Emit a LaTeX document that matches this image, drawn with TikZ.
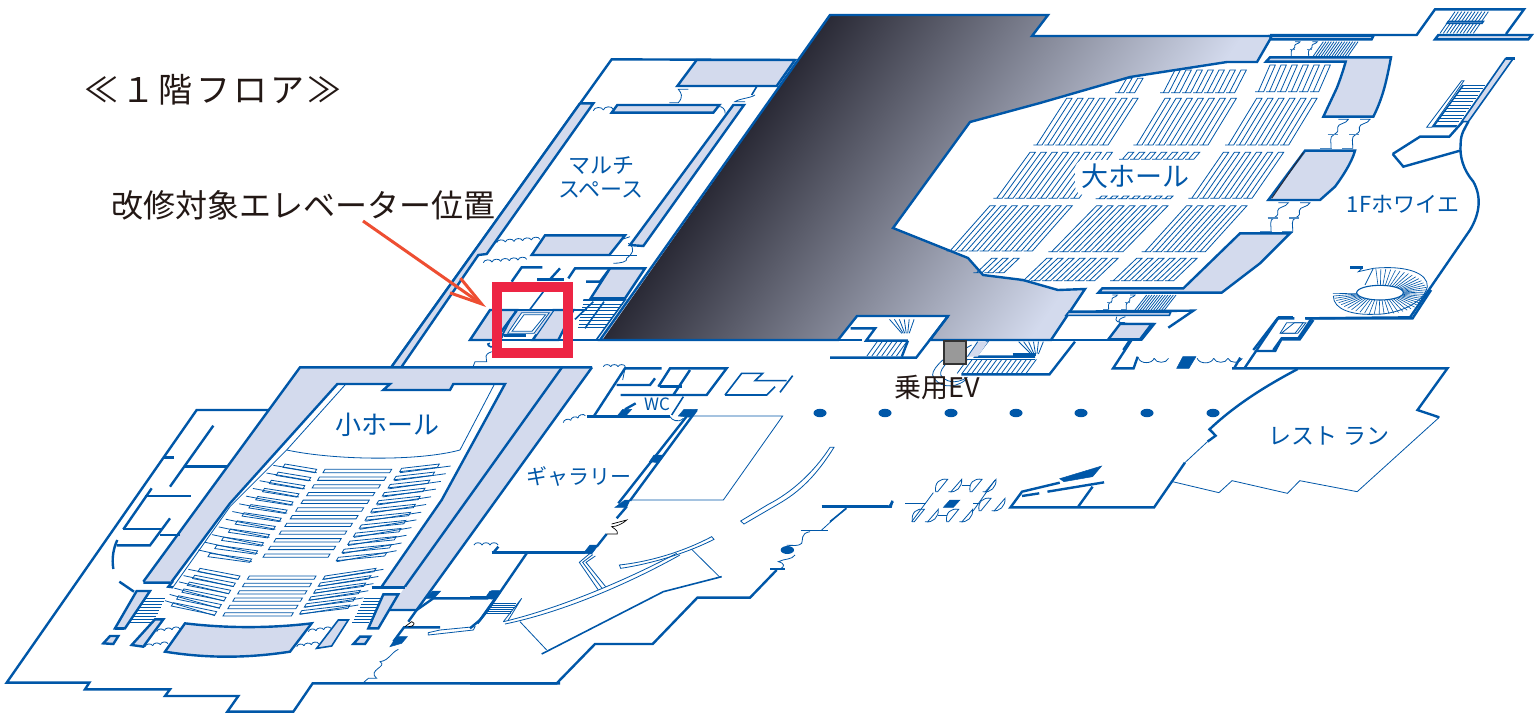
\documentclass[tikz,border=0pt]{standalone}
\usepackage{fontspec}
\usetikzlibrary{arrows.meta}
\newfontfamily\jp{Noto Sans CJK JP}
\newfontfamily\jpsp[LetterSpace=9]{Noto Sans CJK JP}
\definecolor{bl}{RGB}{0,87,168}
\definecolor{lt}{RGB}{211,218,237}
\definecolor{gA}{RGB}{42,42,54}
\definecolor{gB}{RGB}{150,154,175}
\definecolor{ink}{RGB}{35,24,21}
\definecolor{red1}{RGB}{237,37,68}
\definecolor{org}{RGB}{238,78,50}
\tikzset{
 wall/.style={draw=bl,line width=2.4pt,line join=miter},
 wmid/.style={draw=bl,line width=1.6pt,line join=miter},
 hair/.style={draw=bl,line width=.8pt,line join=miter},
 lite/.style={fill=lt},
 solid/.style={fill=bl,draw=bl,line width=.5pt},
 zA/.style={shift={(380,50)},x=.33333pt,y=-.33333pt},
 zB/.style={shift={(0,360)},x=.33333pt,y=-.33333pt},
 zC/.style={shift={(470,360)},x=.33333pt,y=-.33333pt},
 zD/.style={shift={(830,290)},x=.41026pt,y=-.33333pt},
 zE/.style={shift={(1040,0)},x=.33333pt,y=-.33333pt},
 zF/.style={shift={(880,90)},x=.33333pt,y=-.33333pt},
 zG/.style={shift={(905,470)},x=.33333pt,y=-.33333pt},
 lab/.style={font=\jp\fontsize{#1}{#1}\selectfont,text=bl,inner sep=0pt},
 blk/.style={font=\jp\fontsize{#1}{#1}\selectfont,text=ink,inner sep=0pt},
}
% scallops: x y n dx dy
\newcommand\wav[5]{\foreach \i in {1,...,#3}{\draw[hair] ({#1+(\i-1)*#4},{#2+(\i-1)*#5}) to[bend left=75] ({#1+\i*#4},{#2+\i*#5});}}
% door glyph: top right x, top y, scale
\newcommand\three[3]{\begin{scope}[shift={(#1,#2)},x=#3*.33333pt,y=-#3*.33333pt]
\draw[hair] (-30,0)--(0,0) .. controls (-6,14) and (-32,12) .. (-32,24) .. controls (-32,34) and (-28,36) .. (-42,45) .. controls (-60,52) and (-50,70) .. (-52,88);
\draw[draw=bl!70,line width=1.4pt] (-62,46)--(-32,46);
\draw[draw=bl!70,line width=1.4pt] (-84,88)--(-50,88);
\end{scope}}
% hairpin seats: xl xr ytop dx ybot
\newcommand\seats[5]{\pgfmathtruncatemacro\nn{(#2-#1)/33}\foreach \k in {0,...,\nn}{\pgfmathsetmacro\xx{#1+33*\k}\draw[hair] ({\xx+#4-10},#5)--({\xx+#4+16},#5)--({\xx+16},#3)--(\xx,#3)--({\xx+#4},#5);}}
% a seat row between two interpolated ends
\newcommand\rowseg[8]{\draw[hair] ({#1+(#5-#1)*\t},{#2+(#6-#2)*\t}) -- ({#3+(#7-#3)*\t},{#4+(#8-#4)*\t}) -- ({#3+(#7-#3)*\t-6},{#4+(#8-#4)*\t+10}) -- ({#1+(#5-#1)*\t-6},{#2+(#6-#2)*\t+10}) -- cycle;}
% double door leaves
\newcommand\dd[2]{\draw[hair] (#1,{#2+37}) .. controls ({#1-4},{#2+10}) and ({#1+12},{#2-4}) .. ({#1+36},#2) -- ({#1+6},{#2+37})--cycle;
\draw[hair] ({#1+38},{#2+37}) .. controls ({#1+62},{#2+42}) and ({#1+80},{#2+22}) .. ({#1+78},#2) -- ({#1+46},{#2+37})--cycle;}
\begin{document}
\begin{tikzpicture}[x=1pt,y=-1pt]
\useasboundingbox (0,0) rectangle (1538,713);
\fill[white] (0,0) rectangle (1538,713);

% ---------- gradient block
\fill[lt] (830,15)--(1048,15)--(1032,36)--(1272,36)--(1257,62)--(1227,62)--(1130,77)--(1040,103)--(970,122)--(893,228)--(968,258)--(983,275)--(1023,280)--(1058,290)--(1085,289)--(1051,340)--(930,340)--(948,316)--(857,316)--(838,340)--(600,340)--cycle;
\begin{scope}
\clip (830,15)--(1048,15)--(1032,36)--(1272,36)--(1257,62)--(1227,62)--(1130,77)--(1040,103)--(970,122)--(893,228)--(968,258)--(983,275)--(1023,280)--(1058,290)--(1085,289)--(1051,340)--(930,340)--(948,316)--(857,316)--(838,340)--(600,340)--cycle;
\shade[transform canvas={shift={(830,15)},rotate=-35},left color=gA,middle color=gB,right color=lt] (0,-1200) rectangle (350,1200);
\end{scope}
\draw[wall] (830,15)--(1048,15)--(1032,36)--(1272,36)--(1257,62)--(1227,62)--(1130,77)--(1040,103)--(970,122)--(893,228)--(968,258)--(983,275)--(1023,280)--(1058,290)--(1085,289)--(1051,340)--(930,340)--(948,316)--(857,316)--(838,340)--(600,340)--cycle;

% ---------- multi space wing
\begin{scope}[zA]
\draw[wall] (1245,30)--(695,28)--(35,950);
\path[lite] (600,160)--(640,160)--(320,612)--(295,615)--(65,950)--(35,950)--cycle;
\draw[wall] (600,160)--(640,160)--(320,612)--(295,615)--(65,950);
\draw[wall] (600,160)--(35,950);
\draw[wall,lite] (950,30)--(892,108)--(1190,108)--(1245,30)--cycle;
\draw[wmid] (1130,110)--(1115,135);
\draw[wall,lite] (695,188)--(712,165)--(1018,165)--(1000,188)--cycle;
\draw[wall,lite] (1060,165)--(1092,165)--(790,588)--(750,585)--cycle;
\draw[wall,lite] (495,556)--(735,556)--(688,615)--(455,615)--cycle;
\draw[wmid] (455,617)--(772,617);
\wav{640}{182}{2}{30}{-2}
\draw[hair] (1015,170) to[bend left=60] (1035,190);
\draw[hair] (925,118)--(895,118) .. controls (905,130) and (910,140) .. (895,158)--(868,158);
\draw[hair] (1125,135) .. controls (1110,145) and (1080,145) .. (1065,155)--(1095,155);
\wav{350}{578}{5}{26}{-2}
\wav{310}{638}{5}{26}{-2}
\draw[hair] (720,570)--(750,560);
\draw[hair] (745,580) .. controls (770,595) and (755,615) .. (740,625) .. controls (745,635) and (720,640) .. (700,640);
% rooms
\draw[wall] (395,695)--(425,652)--(487,652);
\draw[wall] (472,688)--(552,688);
\draw[wall] (510,688)--(540,655);
\draw[wall] (565,685)--(585,655)--(690,655);
\draw[wall] (618,695)--(660,695)--(690,655);
\draw[wall,lite] (690,655)--(795,655)--(735,745)--(632,745)--cycle;
% stair
\foreach \y in {752,762,...,838}{\draw[hair] ({610+(\y-752)*(-0.2)},\y)--({735-(\y-752)*.75},\y);}
\draw[wmid] (610,750)--(735,750)--(650,868);
\draw[wmid] (672,755)--(615,835);\draw[wmid] (640,755)--(585,808);
% lobby zone behind the red frame
\draw[wall,lite] (330,780)--(270,870)--(360,870)--(410,780)--cycle;
\draw[wall,lite] (520,780)--(580,780)--(535,870)--(458,870)--cycle;
\path[lite] (410,780)--(520,780)--(470,852)--(372,852)--cycle;
\draw[wall] (330,780)--(620,780);
\draw[wall] (360,850)--(410,782);
\draw[wmid] (490,725)--(450,778);
\draw[hair,fill=white] (425,788)--(508,788)--(462,850)--(383,850)--cycle;
\draw[hair] (432,794)--(497,794)--(456,844)--(396,844)--cycle;
\draw[wall] (372,856)--(438,856);
\draw[wall] (350,730)--(372,700);
\draw[wmid] (330,880) .. controls (315,880) and (330,895) .. (340,890);
\draw[hair] (280,948)--(285,935)--(320,935) .. controls (320,920) and (310,915) .. (335,905);
\end{scope}
\draw[wall] (600,340)--(470,340);

% ---------- small hall
\begin{scope}[zB]
\path[lite] (900,22)--(1776,22)--(1250,750)--(1170,750)--(1215,680)--(1145,680)--(1325,420)--(1515,72)--(1360,72)--(1350,90)--(1150,90)--(1170,72)--(1012,72)--(690,430)--(515,665)--(430,665)--cycle;
\draw[wall] (430,665)--(900,22)--(1776,22);
\draw[wall] (1776,22)--(1250,750)--(1170,750);
\draw[wall] (1686,22)--(1215,680);
\draw[wall] (515,665)--(690,430)--(1012,72)--(1170,72)--(1150,90)--(1350,90)--(1360,72)--(1515,72)--(1325,420)--(1145,680);
\draw[hair] (1035,75)--(860,270)--(690,440)--(520,680);
\draw[hair] (1482,75)--(1380,270);
\draw[hair] (860,270) .. controls (1000,300) and (1250,305) .. (1380,270);
\draw[wall] (430,668)--(515,668)--(505,680)--(520,682);
\draw[wall] (1115,683)--(1215,683);
% seats upper
\foreach \i in {0,...,11}{
 \pgfmathsetmacro\t{\i/11}
 \rowseg{855}{312}{950}{328}{630}{580}{755}{597}
 \rowseg{975}{328}{1175}{328}{795}{582}{990}{582}
 \rowseg{1205}{325}{1318}{312}{1015}{592}{1160}{578}
 \draw[hair] ({820+(595-820)*\t},{316+(570-316)*\t})--({950+(755-950)*\t},{338+(605-338)*\t});
 \draw[hair] ({1200+(1010-1200)*\t},{338+(605-338)*\t})--({1352+(1190-1352)*\t},{318+(572-318)*\t});
}
% seats lower
\foreach \i in {0,...,5}{
 \pgfmathsetmacro\t{\i/5}
 \rowseg{600}{625}{720}{648}{520}{728}{650}{755}
 \rowseg{748}{648}{948}{648}{675}{758}{880}{758}
 \rowseg{975}{648}{1128}{625}{905}{752}{1050}{735}
 \draw[hair] ({565+(495-565)*\t},{628+(722-628)*\t})--({715+(645-715)*\t},{658+(767-658)*\t});
 \draw[hair] ({970+(900-970)*\t},{658+(763-658)*\t})--({1150+(1075-1150)*\t},{628+(735-628)*\t});
}
% stage / lobby box
\draw[wall,lite] (555,790) .. controls (680,805) and (810,805) .. (935,790)--(870,875) .. controls (740,895) and (620,895) .. (495,875)--cycle;
% stairs of hall
\foreach \y in {715,724,...,795}{\draw[hair] ({430-(\y-715)*.6},\y)--({495-(\y-715)*.5},\y);
 \draw[hair] ({1092-(\y-715)*.5},\y)--({1147-(\y-715)*.55},\y);}
\draw[wall,lite] (410,693)--(450,693)--(375,805)--(345,805)--cycle;
\draw[wmid] (345,807)--(372,807);
\draw[wall,lite] (310,850)--(330,828)--(355,828)--(340,852)--cycle;
\draw[wall,lite] (395,855)--(465,778)--(490,778)--(430,860)--cycle;
\draw[wall,lite] (1150,703)--(1195,703)--(1135,805)--(1105,805)--cycle;
\draw[wmid,lite] (950,865)--(1015,780)--(1045,780)--(995,858)--cycle;
\draw[wall,lite] (1060,852)--(1080,830)--(1110,830)--(1095,852)--cycle;
\wav{470}{815}{3}{23}{-3}
\wav{435}{860}{3}{23}{-3}
\wav{925}{815}{3}{23}{-3}
\wav{890}{860}{3}{22}{-3}
% left rooms
\draw[wall] (805,150)--(590,150)--(20,968)--(268,968)--(255,988)--(510,988)--(495,1008)--(715,1008)--(682,1055)--(880,1055)--(938,970)--(1680,970);
\draw[wall] (640,197)--(510,380);
\draw[wall] (490,293)--(522,293);
\draw[wall] (555,320)--(685,320);
\draw[wall] (455,385)--(370,508);
\draw[wall] (435,408)--(572,408);
\draw[wall] (370,507)--(485,507);
\draw[wall] (510,475)--(450,556)--(350,556);
\draw[wall] (480,525)--(540,525);
\draw[wall] (352,540) .. controls (340,565) and (335,595) .. (340,627);
\draw[wall] (358,665)--(402,695);
% lower right of small hall
\draw[hair] (1090,968)--(1105,955)--(1130,955) .. controls (1100,930) and (1165,920) .. (1140,905) .. controls (1170,900) and (1170,880) .. (1195,868);
\draw[solid] (1170,860)--(1190,830)--(1222,830)--(1205,850)--(1170,860)--cycle;
\draw[wall] (1180,845)--(1212,802)--(1320,802);
\draw[wall] (1250,750)--(1300,715)--(1465,715);
\draw[solid] (1275,715)--(1298,693)--(1322,693)--(1302,715)--cycle;
\draw[solid] (1455,715)--(1470,693)--(1500,693)--(1482,718)--cycle;
\draw[hair] (1285,825)--(1420,810)--(1425,800)--(1320,810)--(1285,818)--cycle;
\draw[wall] (1250,750)--(1225,785);
\draw[draw=black,line width=.7pt] (1215,800)--(1235,785) .. controls (1250,790) and (1240,800) .. (1225,800);
\draw[wall] (1410,805)--(1440,780);
\draw[wall] (1440,780)--(1500,695);
\end{scope}

% ---------- gallery zone
\begin{scope}[zC]
\draw[wall] (65,578)--(345,578);
\draw[solid] (340,580)--(360,555)--(385,555)--(365,582)--cycle;
\draw[wall] (380,560)--(410,522);
\draw[draw=black,line width=.7pt] (410,522)--(442,522) .. controls (445,510) and (430,505) .. (425,500) .. controls (440,500) and (460,490) .. (470,480)--(425,492);
\draw[wall] (440,475)--(470,440);
% pillars strip
\draw[solid] (435,442)--(465,420)--(480,420)--(470,442)--cycle;
\draw[wall] (445,430)--(665,150);
\draw[wall] (480,422)--(680,150);
\draw[solid] (538,305)--(552,285)--(582,285)--(565,308)--cycle;
\draw[solid] (625,168)--(642,148)--(682,148)--(665,172)--cycle;
\draw[hair] (665,168)--(938,168)--(760,420)--(485,420);
\draw[wall] (350,170)--(600,170);
\draw[wall] (372,168)--(465,25)--(575,25);
\draw[wall] (440,75)--(540,75)--(555,55);
\draw[wall] (565,80)--(600,25)--(770,25)--(710,105)--(452,105);
\draw[wall] (570,80)--(635,80);
\draw[wall] (660,30)--(610,105);
\draw[wmid] (640,110)--(605,165);
\draw[solid] (440,170)--(458,148)--(485,148)--(465,170)--cycle;
\draw[wall] (465,148)--(497,130);
\draw[wmid] (765,105)--(815,40)--(878,40)--(855,62)--(950,62);
\draw[wmid] (765,105)--(890,105)--(915,80);
\draw[wmid] (930,97)--(968,47);
\draw[hair] (600,170) .. controls (605,180) and (625,190) .. (640,175);
\wav{280}{188}{3}{22}{-7}
\wav{400}{20}{3}{22}{0}
\draw[hair] (465,25)--(458,60);
\wav{12}{555}{3}{24}{0}
\draw[wall] (85,560)--(70,578);
% thin curved
\draw[hair] (812,483)--(895,433) .. controls (960,400) and (1030,340) .. (1080,262)--(1092,262) .. controls (1040,345) and (990,395) .. (925,432)--(822,492)--cycle;
\draw[hair] (448,615) .. controls (540,605) and (640,575) .. (725,530)--(732,538) .. controls (650,580) and (540,612) .. (452,625)--cycle;
\draw[hair] (100,785) .. controls (250,750) and (450,670) .. (620,580);
\draw[hair] (105,792) .. controls (260,760) and (450,685) .. (630,585);
\draw[hair] (100,785)--(155,715)--(115,780);
\draw[hair] (150,785)--(230,870);
\draw[wmid] (215,882)--(580,695)--(755,650);
\draw[hair] (665,568)--(750,652);
\draw[hair] (360,580)--(328,607)--(385,690);
\draw[hair] (368,584)--(338,607)--(396,685);
\draw[hair] (376,588)--(348,607)--(407,680);
\foreach \y in {730,736,...,760}{\draw[hair] ({60-(\y-730)*.5},\y)--({138-(\y-730)*.5},\y);}
\draw[wall] (170,580)--(50,755)--(22,790);
\draw[wall] (0,713)--(50,713);
\draw[solid] (48,715)--(65,692)--(88,692)--(72,716)--cycle;
\draw[wall] (1055,440)--(1255,440);
\draw[wall] (1258,440)--(1268,425);
\draw[hair] (1130,442)--(1055,510);
\draw[hair] (992,510)--(1075,510);
\draw[hair] (1020,515) .. controls (990,520) and (1000,540) .. (995,550) .. controls (985,560) and (970,555) .. (950,556);
\draw[hair] (975,585) .. controls (965,600) and (945,595) .. (925,605) .. controls (945,610) and (945,620) .. (930,627);
\draw[wmid] (900,627)--(945,627);
\draw[wall] (920,630)--(840,713)--(682,713)--(548,852)--(375,852)--(260,970)--(0,970);
\fill[bl] (952,570) ellipse (20 and 12);
\end{scope}

% ---------- columns
\foreach \x in {820,885,951,1016,1081,1147,1213}{\fill[bl] (\x,413) ellipse (6.5 and 4.2);}

% ---------- restaurant side
\begin{scope}[zD]
\draw[wall] (22,150)--(78,150);
\draw[wall] (50,115)--(110,115)--(88,152)--(190,152);
\draw[wall] (288,78)--(210,203)--(0,203);
\draw[wall] (190,152)--(175,200);
\foreach \x in {0,12,...,60}{\draw[hair] ({145+\x},88)--({175+\x*.3},130);}
\foreach \x in {0,12,...,72}{\draw[hair] ({115+\x},155)--({90+\x},198);}
% EV zone
\draw[wall] (597,155)--(535,253)--(320,253);
\draw[wall] (385,152)--(355,200)--(500,200);
\draw[wall] (445,194)--(502,194);
\path[lite] (335,200)--(360,155)--(385,155)--(360,200)--cycle;
\draw[hair] (335,200)--(360,155);
\foreach \x in {0,12,...,60}{\draw[hair] ({460+\x},155)--({490+\x*.3},192);}
\foreach \x in {0,12,...,170}{\draw[hair] ({335+\x},208)--({310+\x},250);}
\draw[hair] (320,208)--(500,208);
\draw[hair] (330,165) .. controls (290,190) and (250,230) .. (250,255) .. controls (260,290) and (300,300) .. (330,270);
\draw[hair] (345,165) .. controls (300,195) and (265,235) .. (270,255) .. controls (280,275) and (305,285) .. (335,262);
\draw[wall] (540,150)--(760,150);
\draw[wall,lite] (685,148)--(715,102)--(790,102)--(760,148)--cycle;
\draw[hair] (720,80) .. controls (695,90) and (700,100) .. (725,100);
\draw[wall] (735,150)--(690,235)--(740,235)--(750,200);
\foreach \a/\b in {752/790,790/825,895/935,935/970,970/1005}{\draw[hair] (\a,205) to[bend right=70] (\b,205);}
\draw[solid] (860,200)--(892,200)--(875,235)--(845,235)--cycle;
\draw[wall] (1000,203)--(985,235);
\draw[wall] (1010,235)--(1092,85)--(1132,85);
\draw[wall] (1160,85)--(1420,85)--(1465,0);
\draw[wall] (1040,183)--(1085,183)--(1100,148)--(1145,148)--(1178,90);
\draw[hair] (1100,130)--(1132,98)--(1160,98)--(1140,130)--cycle;
\draw[wall] (980,235)--(1505,235)--(1432,360)--(1485,382);
\draw[hair] (1485,382)--(1285,605)--(1145,572)--(1115,610)--(980,572)--(948,608)--(835,575);
\draw[wall] (1140,237) .. controls (1090,270) and (1000,330) .. (925,418)--(940,437)--(920,455);
\draw[hair] (920,455)--(865,518);
\draw[wall] (865,518)--(790,652)--(440,652)--(468,605)--(560,578);
\draw[solid] (560,566)--(662,528)--(640,560)--(570,575)--cycle;
\draw[wall] (530,605)--(668,577);
\draw[wall] (640,590)--(605,650);
\draw[wall] (468,618)--(510,610);
\draw[wall] (0,650)--(148,650)--(152,632);
\draw[wmid] (40,655)--(0,695);
\end{scope}
% door glyphs
\begin{scope}[zG]
\draw[hair] (0,100)--(62,100);
\draw[hair] (85,68)--(20,155);
\draw[hair] (270,30)--(205,122);
\dd{92}{28}\dd{195}{28}
\draw[hair] (170,45)--(195,45);
\dd{22}{118}\dd{125}{118}
\draw[hair] (100,135)--(125,135);
\dd{222}{85}
\draw[hair] (205,100)--(225,100);
\draw[solid] (115,112)--(135,90)--(165,90)--(145,112)--cycle;
\end{scope}

% ---------- big hall surroundings
\begin{scope}[zE]
\draw[wall] (690,105)--(1130,105)--(1185,28)--(1452,28)--(1398,102);
\draw[wall,lite] (690,108)--(1000,108)--(995,118)--(695,118)--cycle;
\draw[wall,lite] (1185,118)--(1195,105)--(1475,105)--(1465,118)--cycle;
\foreach \x in {0,10,...,100}{\draw[hair] ({1245+\x},35)--({1200+\x},100);}
\foreach \x in {0,8,...,104}{\draw[hair] ({850+\x},125)--({820+\x},168);}
\draw[wmid,fill=lt] (1225,64)--(1330,64)--(1326,70)--(1221,70)--cycle;
\three{780}{125}{.5}\three{832}{125}{.5}
\draw[wall,lite] (690,172)--(1053,172) .. controls (1040,240) and (1030,290) .. (1000,350)--(850,350)--(890,265) .. controls (900,240) and (910,210) .. (917,185)--(678,185)--cycle;
\three{925}{358}{1}\three{990}{358}{1}
\draw[wall,lite] (795,452)--(945,452) .. controls (935,490) and (900,540) .. (885,560)--(840,600)--(685,600)--cycle;
\draw[draw=gA,line width=1pt] (790,458)--(695,595);
\three{745}{608}{1}\three{810}{608}{1}
\draw[wall,lite] (600,700)--(750,700)--(660,790)--(545,878)--(175,878)--(187,865)--(430,865)--cycle;
\three{232}{885}{.5}\three{285}{885}{.5}
\foreach \x in {0,8,...,88}{\draw[hair] ({320+\x},885)--({285+\x},930);}
\draw[wall] (85,935)--(460,932)--(385,983);
\draw[wmid,lite] (85,937)--(392,937)--(388,946)--(78,946)--cycle;
\draw[wall,lite] (240,972)--(335,972)--(300,1018)--(205,1018)--cycle;
\draw[wall] (0,1020)--(300,1020);
\draw[wall] (270,1020)--(250,1050);
\draw[hair] (230,950) .. controls (222,965) and (235,968) .. (255,968);
% foyer outline
\draw[wall] (1110,952)--(1290,690) .. controls (1320,640) and (1325,590) .. (1300,545) .. controls (1270,510) and (1258,470) .. (1262,430) .. controls (1262,400) and (1275,385) .. (1285,365);
\draw[wmid,lite] (1265,365)--(1285,365)--(1420,175)--(1397,175)--cycle;
\draw[wall] (1058,462)--(1140,410)--(1228,410)--(1268,365);
\draw[wall] (1058,462)--(1090,500)--(1260,452);
\draw[wall] (1398,175)--(1425,175);
\draw[hair] (1160,382)--(1265,242)--(1272,242)--(1175,382)--cycle;
\foreach \y in {255,265,...,375}{\draw[hair] ({1270-(\y-255)*.7},\y)--({1335-(\y-255)*.7},\y);}
\draw[wmid] (1270,255)--(1180,380)--(1250,380);
\draw[wall] (715,952)--(760,952);
\draw[wall] (795,955)--(1110,952);
\draw[wall] (715,952)--(640,1050);
\draw[wall] (815,955)--(775,1015)--(725,1015)--(700,1050);
\draw[hair] (740,968)--(790,968)--(765,1000)--(720,1000)--cycle;
% spiral
\foreach \a in {-175,-169,...,95}{\draw[draw=bl,line width=.6pt] ({1020+70*cos(\a)},{878-22*sin(\a)})--({1020+142*cos(\a)},{875-68*sin(\a)});}
\draw[draw=bl,line width=1.1pt,fill=white] (1020,878) ellipse (70 and 22);
\draw[hair] (1000,805) .. controls (1100,795) and (1165,820) .. (1162,860) .. controls (1150,915) and (1060,945) .. (1000,943) .. controls (940,945) and (880,930) .. (880,888);
\draw[hair] (1000,805)--(975,855);
\draw[wall] (930,803)--(968,803);
\draw[hair] (968,803)--(955,815)--(1000,805);
\end{scope}

% ---------- big hall seats
\begin{scope}[zF]
\seats{1170}{1340}{-75}{-35}{5}
\seats{885}{1090}{-60}{-35}{8}
\seats{740}{805}{-35}{-25}{8}
\seats{560}{780}{25}{-90}{165}
\seats{855}{1065}{25}{-85}{165}
\seats{1130}{1305}{25}{-85}{165}
\seats{450}{695}{187}{-100}{325}
\seats{1030}{1225}{187}{-95}{325}
\seats{745}{975}{187}{-18}{208}
\seats{330}{575}{347}{-120}{483}
\seats{650}{860}{347}{-135}{485}
\seats{920}{1100}{347}{-125}{485}
\seats{665}{870}{318}{-8}{326}
\seats{500}{705}{505}{-70}{572}
\seats{770}{950}{505}{-70}{572}
\seats{335}{425}{505}{-45}{548}
\end{scope}
\fill[white,rounded corners=9pt] (1075,160) rectangle (1197,195);

% ---------- texts
\node[lab=22] (ms1) at (601,166) {マルチ};
\node[lab=22] (ms2) at (601,190) {スペース};
\node[lab=27] (dh) at (1135,176) {大ホール};
\node[lab=26] (sh) at (387,425) {小ホール};
\node[lab=22] (fy) at (1403,204) {1Fホワイエ};
\node[lab=21] (gl) at (579,476) {ギャラリー};
\node[lab=17] (wc) at (657,404) {WC};
\node[lab=23] (rs) at (1329,436) {レスト ラン};
\node[text=ink,inner sep=0pt,font=\jpsp\fontsize{34}{34}\selectfont] (ttl) at (213,90) {≪１階フロア≫};
\node[blk=32] (ev) at (303,205) {改修対象エレベーター位置};
\draw[draw=black!80,line width=2.5pt,fill=black!40] (944,341) rectangle (966,364);
\node[blk=27] (evl) at (937,387) {乗用EV};

% ---------- marker + arrow
\draw[red1,line width=10pt] (497,287) rectangle (568,353);
\draw[org,line width=3pt,-{Straight Barb[length=32pt,width=18pt]}] (363,221) -- (486,307);
\end{tikzpicture}
\end{document}
